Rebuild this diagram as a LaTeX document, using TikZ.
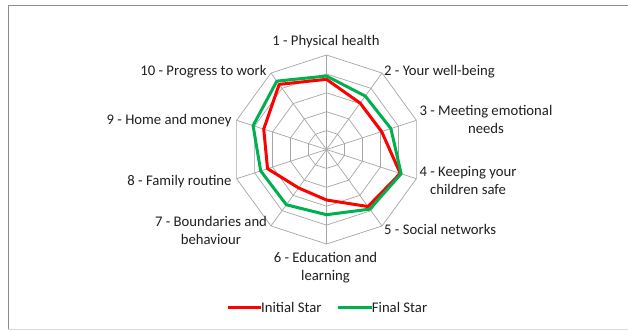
\documentclass[tikz,border=0pt]{standalone}
\usepackage{fontspec}
\setmainfont{Carlito}
\definecolor{gridgray}{HTML}{A6A6A6}
\definecolor{framedark}{HTML}{8C8C8C}
\definecolor{framelight}{HTML}{D9D9D9}
\definecolor{txt}{HTML}{202020}
\definecolor{initred}{HTML}{FF0000}
\definecolor{finalgreen}{HTML}{00B050}
\begin{document}
\begin{tikzpicture}[x=1pt,y=-1pt,
  grid/.style={draw=gridgray, line width=0.7pt},
  series/.style={line width=3pt, line join=round},
  redline/.style={series, draw=initred},
  greenline/.style={series, draw=finalgreen},
  lbl/.style={font=\fontsize{14.7}{18}\selectfont, inner sep=0pt, text=txt, align=center}]
\useasboundingbox (0,0) rectangle (628,330);
\fill[white] (0,0) rectangle (628,330);
\draw[framedark, line width=0.8pt] (628,5) -- (8.3,5) -- (8.3,329.3);
\draw[framelight, line width=0.8pt] (8.3,329.3) -- (628,329.3);
\begin{scope}[shift={(326.5,149.5)}]
  \coordinate (O) at (0,0);
  \foreach \r in {18.9,37.8,56.7,75.6,94.5}
    \draw[grid] (-90:\r) \foreach \a in {-54,-18,18,54,90,126,162,198,234} { -- (\a:\r) } -- cycle;
  \foreach \a in {-90,-54,-18,18,54,90,126,162,198,234}
    \draw[grid] (O) -- (\a:94.5);
  \draw[redline] (-90:70.2) -- (-54:57.3) -- (-18:58) -- (18:77.6) -- (54:70.5)
    -- (90:50.5) -- (126:47.5) -- (162:62) -- (198:66) -- (234:80.5) -- cycle;
  \draw[greenline] (-90:73.5) -- (-54:66) -- (-18:67.7) -- (18:78.5) -- (54:73.7)
    -- (90:65.2) -- (126:68.3) -- (162:69.2) -- (198:77.2) -- (234:84.5) -- cycle;
\end{scope}
\node[lbl, anchor=base] (l1) at (326,45) {1 - Physical health};
\node[lbl, anchor=base west] (l2) at (384,75) {2 - Your well-being};
\node[lbl] (l3) at (486,119) {3 - Meeting emotional\\needs};
\node[lbl] (l4) at (468,180) {4 - Keeping your\\children safe};
\node[lbl, anchor=base west] (l5) at (384,234) {5 - Social networks};
\node[lbl] (l6) at (325.5,268) {6 - Education and\\learning};
\node[lbl] (l7) at (211,230) {7 - Boundaries and\\behaviour};
\node[lbl, anchor=base east] (l8) at (231.7,185.5) {8 - Family routine};
\node[lbl, anchor=base east] (l9) at (231.7,124.3) {9 - Home and money};
\node[lbl, anchor=base east] (l10) at (266.7,75) {10 - Progress to work};
\node[lbl, anchor=base west] (legi) at (261,312.7) {Initial Star};
\node[lbl, anchor=base west] (legf) at (371.7,312.7) {Final Star};
\coordinate (legistart) at (228.3,307.7);
\coordinate (legfstart) at (338.3,307.7);
\draw[redline] (legistart) -- (legistart -| legi.west);
\draw[greenline] (legfstart) -- (legfstart -| legf.west);
\end{tikzpicture}
\end{document}
